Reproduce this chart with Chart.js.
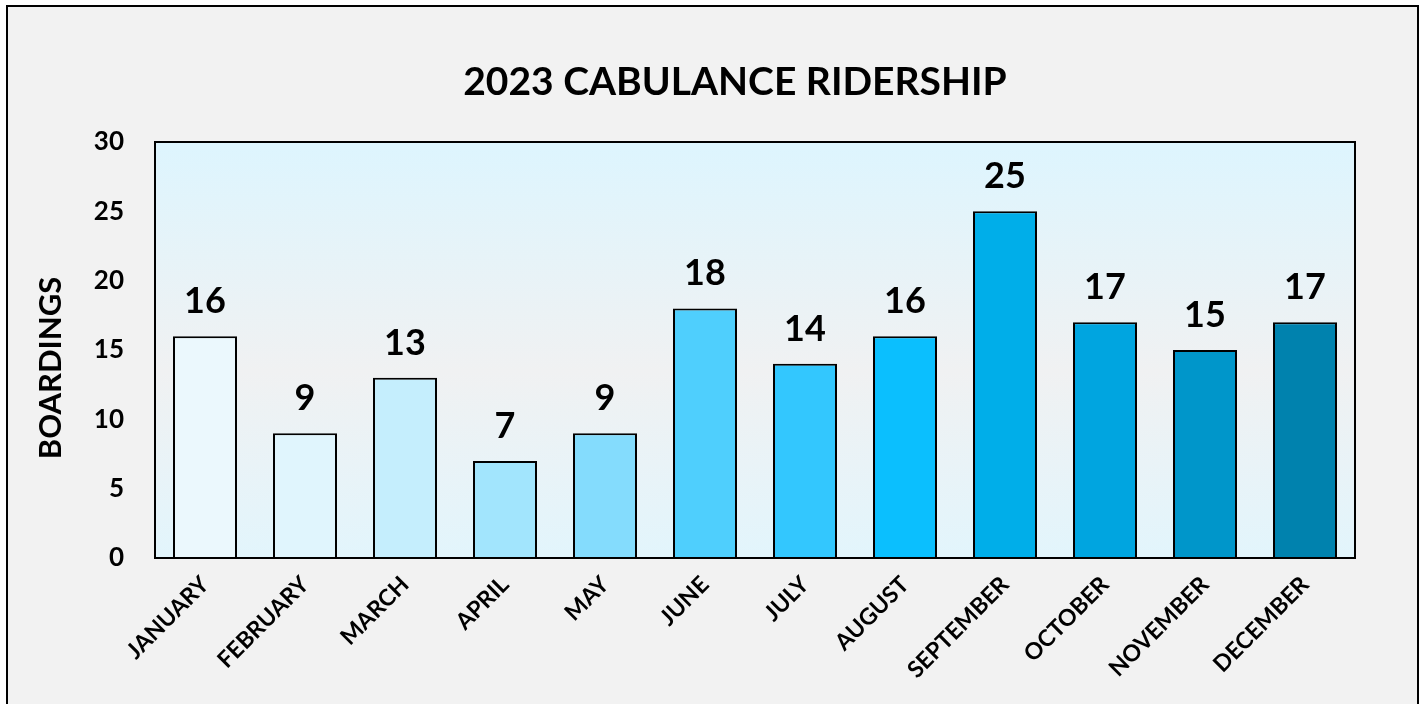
<!DOCTYPE html>
<html>
<head>
<meta charset="utf-8">
<script src="https://cdn.jsdelivr.net/npm/chart.js@4"></script>
<style>
    body { margin: 0; background: #ffffff; }
    #box {
        position: absolute; left: 6px; top: 5px;
        width: 1409px; height: 720px;
        border: 2px solid #000; background: #f2f2f2;
    }
</style>
</head>
<body>
<div id="box"><canvas id="myChart" width="1409" height="720"></canvas></div>
<script>
// chart data
const months = ['JANUARY', 'FEBRUARY', 'MARCH', 'APRIL', 'MAY', 'JUNE', 'JULY', 'AUGUST',
    'SEPTEMBER', 'OCTOBER', 'NOVEMBER', 'DECEMBER'];
const boardings = [16, 9, 13, 7, 9, 18, 14, 16, 25, 17, 15, 17];
const barColors = ['#ebf8fd', '#e0f5fd', '#c5eefd', '#a2e5fd', '#84dcfd', '#4fcffd',
    '#33c7fe', '#0bbffe', '#00aee9', '#00a5e0', '#0096ca', '#0082ae'];
const yTicks = [0, 5, 10, 15, 20, 25, 30];
const chartTitle = '2023 CABULANCE RIDERSHIP';
const yTitle = 'BOARDINGS';

const FONT = 'Lato';

// plot background + frame, titles, value labels
const decor = {
    id: 'decor',
    beforeDatasetsDraw(chart) {
        const ctx = chart.ctx;
        const a = chart.chartArea;
        const g = ctx.createLinearGradient(0, a.top, 0, a.bottom);
        g.addColorStop(0, '#ddf5fe');
        g.addColorStop(0.55, '#f0f1f2');
        g.addColorStop(1, '#e2f5fc');
        ctx.save();
        ctx.fillStyle = g;
        ctx.fillRect(a.left, a.top, a.right - a.left, a.bottom - a.top);
        ctx.restore();
    },
    afterDatasetsDraw(chart) {
        const ctx = chart.ctx;
        const a = chart.chartArea;
        ctx.save();
        ctx.strokeStyle = '#000';
        ctx.lineWidth = 2;
        ctx.strokeRect(a.left, a.top, a.right - a.left, a.bottom - a.top);

        // value labels
        ctx.fillStyle = '#000';
        ctx.font = 'bold 36px ' + FONT;
        ctx.textAlign = 'center';
        ctx.textBaseline = 'alphabetic';
        chart.getDatasetMeta(0).data.forEach((bar, i) => {
            ctx.fillText(String(boardings[i]), bar.x, bar.y - 23);
        });

        // chart title
        ctx.font = 'bold 39px ' + FONT;
        ctx.textBaseline = 'middle';
        ctx.fillText(chartTitle, 727, 75);

        // y title
        ctx.font = 'bold 31px ' + FONT;
        ctx.translate(43, (a.top + a.bottom) / 2 + 18);
        ctx.rotate(-Math.PI / 2);
        ctx.fillText(yTitle, 0, 0);
        ctx.restore();
    }
};

const ctx = document.getElementById('myChart');

const myChart = new Chart(ctx, {
    type: 'bar',
    data: {
        labels: months,
        datasets: [{
            data: boardings,
            backgroundColor: barColors,
            borderColor: '#000',
            borderWidth: 2,
            borderSkipped: 'bottom',
            categoryPercentage: 1,
            barPercentage: 0.64
        }]
    },
    options: {
        responsive: false,
        animation: false,
        devicePixelRatio: 1,
        layout: { padding: { top: 135, right: 62, left: 0, bottom: 0 } },
        plugins: {
            legend: { display: false },
            tooltip: { enabled: false }
        },
        scales: {
            x: {
                grid: { display: false, drawTicks: false },
                border: { display: false },
                ticks: {
                    color: '#000',
                    font: { family: FONT, weight: 'bold', size: 23 },
                    minRotation: 45,
                    maxRotation: 45,
                    autoSkip: false,
                    padding: 13
                },
                afterFit: (scale) => { scale.height = 169; }
            },
            y: {
                min: 0,
                max: 30,
                grid: { display: false, drawTicks: false },
                border: { display: false },
                afterBuildTicks: (scale) => { scale.ticks = yTicks.map(v => ({ value: v })); },
                ticks: {
                    color: '#000',
                    font: { family: FONT, weight: 'bold', size: 26 },
                    padding: 31
                },
                afterFit: (scale) => { scale.width = 147; }
            }
        }
    },
    plugins: [decor]
});
</script>
</body>
</html>
